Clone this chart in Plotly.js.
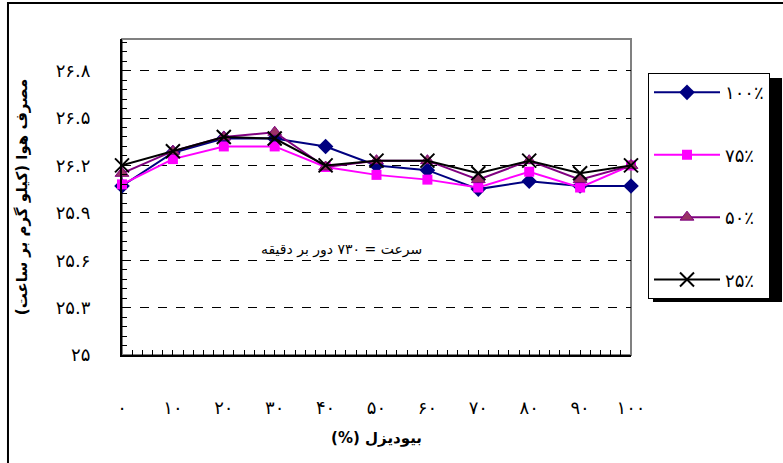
<!DOCTYPE html>
<html>
<head>
<meta charset="utf-8">
<script src="https://cdn.plot.ly/plotly-3.0.1.min.js"></script>
<style>
html,body{margin:0;padding:0;background:#fff;}
#chart{width:783px;height:463px;}
</style>
</head>
<body>
<div id="chart"></div>
<script>
// ---- data ----
const biodiesel = [0, 10, 20, 30, 40, 50, 60, 70, 80, 90, 100];
const xTickText = ["۰", "۱۰", "۲۰", "۳۰", "۴۰", "۵۰", "۶۰", "۷۰", "۸۰", "۹۰", "۱۰۰"];
const yTickVals = [25, 25.3, 25.6, 25.9, 26.2, 26.5, 26.8];
const yTickText = ["۲۵", "۲۵.۳", "۲۵.۶", "۲۵.۹", "۲۶.۲", "۲۶.۵", "۲۶.۸"];
const seriesNames = ["۱۰۰٪", "۷۵٪", "۵۰٪", "۲۵٪"];
const load100 = [26.07, 26.28, 26.37, 26.37, 26.32, 26.20, 26.17, 26.05, 26.10, 26.07, 26.07];
const load75  = [26.08, 26.24, 26.32, 26.32, 26.19, 26.14, 26.11, 26.06, 26.16, 26.06, 26.20];
const load50  = [26.15, 26.29, 26.38, 26.41, 26.19, 26.23, 26.23, 26.11, 26.23, 26.11, 26.20];
const load25  = [26.20, 26.29, 26.38, 26.37, 26.20, 26.23, 26.23, 26.15, 26.23, 26.15, 26.20];
const yTitle = "مصرف هوا (کیلو گرم بر ساعت)";
const xTitle = "(%) بیودیزل";
const noteText = "سرعت = ۷۳۰ دور بر دقیقه";

const FONT = "DejaVu Sans, Noto Sans, sans-serif";

const traces = [
  {x: biodiesel, y: load100, name: seriesNames[0], legendgroup: "a",
   line: {color: "#000080", width: 2},
   marker: {symbol: "diamond", size: 12, color: "#000080"}},
  {x: biodiesel, y: load75, name: seriesNames[1], legendgroup: "b",
   line: {color: "#FF00FF", width: 2},
   marker: {symbol: "square", size: 10, color: "#FF00FF"}},
  {x: biodiesel, y: load50, name: seriesNames[2], legendgroup: "c",
   line: {color: "#800080", width: 2},
   marker: {symbol: "triangle-up", size: 12, color: "#993366", line: {color: "#800080", width: 1}}},
  {x: biodiesel, y: load25, name: seriesNames[3], legendgroup: "d",
   line: {color: "#000000", width: 2},
   marker: {symbol: "x-thin", size: 14, color: "#000000", line: {color: "#000000", width: 2}}}
].map(t => Object.assign({type: "scatter", mode: "lines+markers", cliponaxis: false}, t));

const layout = {
  width: 783, height: 463,
  margin: {l: 122, r: 152, t: 39, b: 108},
  paper_bgcolor: "#fff", plot_bgcolor: "#fff",
  font: {family: FONT, size: 15, color: "#000"},
  showlegend: true,
  legend: {
    x: 1.0334, y: 0.892, xanchor: "left", yanchor: "top",
    bgcolor: "#fff", bordercolor: "#000", borderwidth: 1,
    font: {family: FONT, size: 18, color: "#000"},
    tracegroupgap: 36, traceorder: "grouped", itemwidth: 66
  },
  xaxis: {
    range: [0, 100], tickmode: "array", tickvals: biodiesel, ticktext: xTickText,
    ticks: "inside", ticklen: 5, tickcolor: "#000", tickwidth: 1,
    minor: {tickmode: "linear", tick0: 0, dtick: 2, ticks: "inside", ticklen: 5, tickcolor: "#000", showgrid: false},
    showline: true, linecolor: "#000", linewidth: 2, showgrid: false, zeroline: false,
    ticklabelstandoff: 35,
    tickfont: {family: FONT, size: 18},
    title: {text: xTitle, font: {family: FONT, size: 15, weight: "bold"}, standoff: 16}
  },
  yaxis: {
    range: [25, 27], tickmode: "array", tickvals: yTickVals, ticktext: yTickText,
    ticks: "inside", ticklen: 5, tickcolor: "#000", tickwidth: 1,
    minor: {tickmode: "linear", tick0: 25, dtick: 0.06, ticks: "inside", ticklen: 5, tickcolor: "#000", showgrid: false},
    showline: true, linecolor: "#000", linewidth: 2,
    showgrid: true, gridcolor: "#000", gridwidth: 1, griddash: "dash", zeroline: false,
    ticklabelstandoff: 26,
    tickfont: {family: FONT, size: 18},
    title: {text: yTitle, font: {family: FONT, size: 15, weight: "bold"}, standoff: 24}
  },
  shapes: [
    // grey plot border (top/right)
    {type: "rect", xref: "paper", yref: "paper", x0: 0, x1: 1, y0: 0, y1: 1,
     line: {color: "#808080", width: 2}, layer: "below"},
    // outer chart border
    {type: "rect", xref: "paper", yref: "paper", x0: -0.224, x1: 1.5, y0: -0.5, y1: 1.114,
     line: {color: "#000", width: 2}, fillcolor: "rgba(0,0,0,0)", layer: "below"},
    // legend shadow
    {type: "rect", xref: "paper", yref: "paper", x0: 1.0432, x1: 1.2967, y0: 0.168, y1: 0.8766,
     line: {width: 0}, fillcolor: "#000", layer: "above"}
  ],
  annotations: [
    {text: noteText, xref: "paper", yref: "paper", x: 0.432, y: 0.30,
     showarrow: false, font: {family: FONT, size: 14, color: "#000"}}
  ]
};

Plotly.newPlot("chart", traces, layout, {displayModeBar: false, staticPlot: true});
</script>
</body>
</html>
